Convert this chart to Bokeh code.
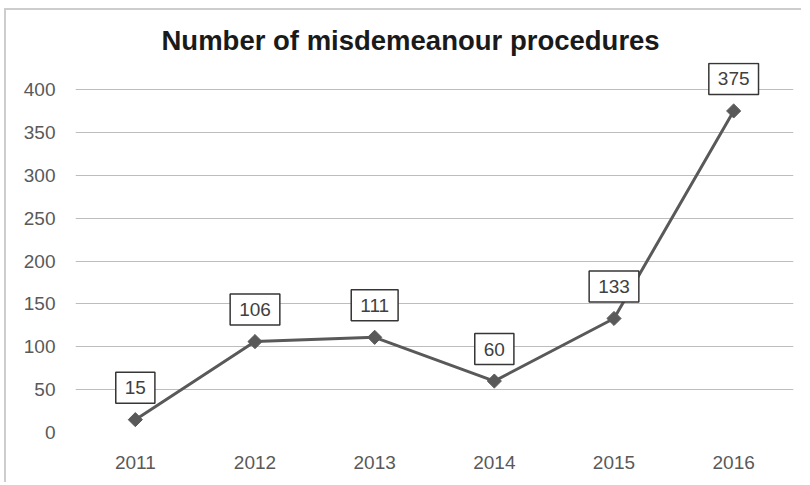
import math
from bokeh.plotting import figure
from bokeh.models import FixedTicker, ColumnDataSource, Range1d
from bokeh.core.properties import value
from bokeh.embed import file_html
from bokeh.resources import INLINE

years = ["2011", "2012", "2013", "2014", "2015", "2016"]
procedures = [15, 106, 111, 60, 133, 375]
y_ticks = [0, 50, 100, 150, 200, 250, 300, 350, 400]
title_text = "Number of misdemeanour procedures"

src = ColumnDataSource(dict(year=years, value=procedures,
                            label=[str(v) for v in procedures]))

# frame extends a bit above 400 so the top data label is not clipped
p = figure(x_range=years, y_range=Range1d(0, 431.5), width=797, height=474,
           output_backend="svg", toolbar_location=None,
           min_border_left=69, min_border_right=10, min_border_top=52,
           min_border_bottom=52, title=title_text)
p.styles = {"margin-left": "4px", "margin-top": "8px",
            "border-left": "2px solid #cdcdcd", "border-top": "2px solid #cdcdcd"}

p.title.text_font = "Liberation Sans"
p.title.text_font_size = "27.5px"
p.title.text_font_style = "bold"
p.title.text_color = "#1a1a1a"
p.title.align = "left"
p.title.offset = 86
p.title.standoff = 13

p.outline_line_color = None
p.background_fill_color = "white"
p.border_fill_color = "white"

p.xgrid.grid_line_color = None
p.ygrid.grid_line_color = "#bdbdbd"
p.ygrid.grid_line_width = 1
p.yaxis.ticker = FixedTicker(ticks=y_ticks)

for ax in (p.xaxis[0], p.yaxis[0]):
    ax.axis_line_color = None
    ax.major_tick_line_color = None
    ax.minor_tick_line_color = None
    ax.major_tick_out = 0
    ax.major_tick_in = 0
    ax.major_label_text_font = "Liberation Sans"
    ax.major_label_text_font_size = "19px"
    ax.major_label_text_color = "#595959"
p.yaxis.major_label_standoff = 20
p.xaxis.major_label_standoff = 23

p.line("year", "value", source=src, line_color="#595959", line_width=3)
p.scatter("year", "value", source=src, marker="square", angle=math.pi / 4,
          size=10, fill_color="#595959", line_color="#595959")

p.text("year", "value", text="label", source=src, y_offset=-32,
       text_align="center", text_baseline="middle",
       text_font=value("Liberation Sans"), text_font_size=value("19px"),
       text_color="#404040", background_fill_color="white",
       border_line_color="#363636", border_line_width=1.5,
       padding=dict(left=9, right=9, top=9, bottom=9))

open("out.html", "w").write(file_html(p, INLINE))
